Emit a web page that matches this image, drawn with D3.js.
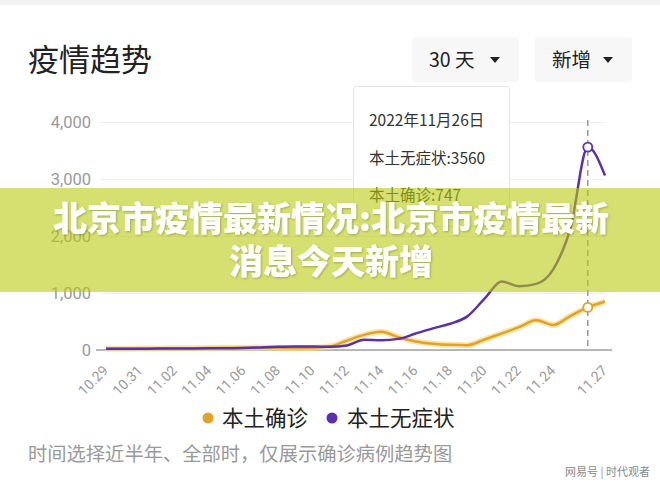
<!DOCTYPE html>
<html>
<head>
<meta charset="utf-8">
<script src="https://cdn.jsdelivr.net/npm/d3@7"></script>
<style>
  body { margin: 0; background: #fff; }
  svg { display: block; font-family: "Noto Sans CJK SC", "Noto Sans", sans-serif; }
</style>
</head>
<body>
<div id="chart"></div>
<script>
// daily values
const dates = [
  "10.29", "10.30", "10.31", "11.01", "11.02", "11.03", "11.04", "11.05", "11.06", "11.07",
  "11.08", "11.09", "11.10", "11.11", "11.12", "11.13", "11.14", "11.15", "11.16", "11.17",
  "11.18", "11.19", "11.20", "11.21", "11.22", "11.23", "11.24", "11.25", "11.26", "11.27"
];
const confirmed = [
  20, 22, 25, 28, 30, 32, 35, 38, 40, 40,
  38, 35, 40, 60, 165, 265, 318, 225, 150, 110,
  90, 85, 185, 290, 400, 520, 440, 600, 747, 850
];
const asymptomatic = [
  20, 20, 22, 25, 25, 28, 30, 30, 35, 45,
  55, 60, 60, 58, 80, 180, 170, 195, 290, 380,
  460, 590, 900, 1200, 1120, 1160, 1420, 2150, 3560, 3060
];
const xTickLabels = [
  "10.29", "10.31", "11.02", "11.04", "11.06", "11.08", "11.10", "11.12",
  "11.14", "11.16", "11.18", "11.20", "11.22", "11.24", "11.27"
];
const yTicks = [0, 1000, 2000, 3000, 4000];
const seriesNames = ["本土确诊", "本土无症状"];
const seriesColors = ["#e2a226", "#5a2fb0"];
const highlightDate = "11.26";

const width = 660, height = 482;
const svg = d3.select("#chart").append("svg")
  .attr("width", width)
  .attr("height", height);

const defs = svg.append("defs");
const shadow = defs.append("filter").attr("id", "textShadow")
  .attr("x", "-10%").attr("y", "-20%").attr("width", "120%").attr("height", "140%");
shadow.append("feDropShadow")
  .attr("dx", 1).attr("dy", 1).attr("stdDeviation", 1.2)
  .attr("flood-color", "#000").attr("flood-opacity", 0.25);

svg.append("rect").attr("width", width).attr("height", height).attr("fill", "#fff");
svg.append("rect").attr("width", width).attr("height", 5).attr("fill", "#f1f1f1");

// header
svg.append("text")
  .attr("x", 28).attr("y", 60).attr("dy", "0.35em")
  .attr("font-size", 31).attr("fill", "#222")
  .text("疫情趋势");

const buttons = [
  { label: "30 天", x: 412, w: 107 },
  { label: "新增", x: 535, w: 97 },
];
buttons.forEach((b) => {
  svg.append("rect")
    .attr("x", b.x).attr("y", 37).attr("width", b.w).attr("height", 45)
    .attr("rx", 3).attr("fill", "#f7f7f7");
  svg.append("text")
    .attr("x", b.x + 17).attr("y", 60).attr("dy", "0.35em")
    .attr("font-size", 19.5).attr("fill", "#222")
    .text(b.label);
  const tx = b.x + b.w - 24;
  svg.append("path")
    .attr("d", `M${tx - 5},57 L${tx + 5},57 L${tx},63 Z`)
    .attr("fill", "#222");
});

// scales
const x = d3.scalePoint().domain(dates).range([106, 605]);
const y = d3.scaleLinear().domain([0, 4000]).range([350, 122]);

// grid + y labels
const yAxis = svg.append("g")
  .attr("transform", "translate(100,0)")
  .call(d3.axisLeft(y).tickValues(yTicks).tickSize(-505).tickFormat(d3.format(",")));
yAxis.select(".domain").remove();
yAxis.selectAll(".tick line").attr("stroke", "#efefef").attr("stroke-width", 1.2);
yAxis.selectAll(".tick text")
  .attr("x", -9)
  .attr("font-size", 16.5).attr("fill", "#9a9a9a")
  .attr("font-family", "Roboto, 'Liberation Sans', sans-serif");

// x axis
svg.append("line")
  .attr("x1", 96).attr("x2", 612).attr("y1", y(0)).attr("y2", y(0))
  .attr("stroke", "#a0a0a0").attr("stroke-width", 1.5);

const xAxis = svg.append("g")
  .attr("transform", `translate(0,${y(0)})`)
  .call(d3.axisBottom(x).tickValues(xTickLabels).tickSize(0));
xAxis.select(".domain").remove();
xAxis.selectAll(".tick text")
  .attr("font-size", 14).attr("fill", "#9a9a9a")
  .attr("font-family", "Roboto, 'Liberation Sans', sans-serif")
  .attr("text-anchor", "end")
  .attr("y", 0).attr("dy", "0.35em")
  .attr("transform", "translate(-1,18) rotate(-45)");

// tooltip box
svg.append("rect")
  .attr("x", 353.5).attr("y", 86.5).attr("width", 156).attr("height", 140)
  .attr("rx", 3).attr("fill", "#fff").attr("stroke", "#e4e4e4");
const tipLines = [
  "2022年11月26日",
  `${seriesNames[1]}:${asymptomatic[dates.indexOf(highlightDate)]}`,
  `${seriesNames[0]}:${confirmed[dates.indexOf(highlightDate)]}`,
];
tipLines.forEach((t, i) => {
  svg.append("text")
    .attr("x", 369).attr("y", 121 + i * 37.5).attr("dy", "0.35em")
    .attr("font-size", 15.5).attr("fill", "#333")
    .text(t);
});

// highlight line
svg.append("line")
  .attr("x1", x(highlightDate)).attr("x2", x(highlightDate))
  .attr("y1", 120).attr("y2", y(0))
  .attr("stroke", "#999").attr("stroke-width", 1.5)
  .attr("stroke-dasharray", "6,4");

// lines
const line = d3.line()
  .x((d, i) => x(dates[i]))
  .y((d) => y(d))
  .curve(d3.curveMonotoneX);

svg.append("path")
  .datum(confirmed)
  .attr("d", line)
  .attr("fill", "none")
  .attr("stroke", "#f5dc8a").attr("stroke-opacity", 0.7)
  .attr("stroke-width", 6);
svg.append("path")
  .datum(confirmed)
  .attr("d", line)
  .attr("fill", "none")
  .attr("stroke", seriesColors[0])
  .attr("stroke-width", 2.5);
svg.append("path")
  .datum(asymptomatic)
  .attr("d", line)
  .attr("fill", "none")
  .attr("stroke", seriesColors[1])
  .attr("stroke-width", 2.5);

[confirmed, asymptomatic].forEach((s, i) => {
  svg.append("circle")
    .attr("cx", x(highlightDate))
    .attr("cy", y(s[dates.indexOf(highlightDate)]))
    .attr("r", 4.5)
    .attr("fill", "#fff")
    .attr("stroke", seriesColors[i])
    .attr("stroke-width", 1.8);
});

// legend
const legendItems = [
  { cx: 208, tx: 222 },
  { cx: 332, tx: 347 },
];
legendItems.forEach((l, i) => {
  svg.append("circle")
    .attr("cx", l.cx).attr("cy", 418).attr("r", 5.5)
    .attr("fill", seriesColors[i]);
  svg.append("text")
    .attr("x", l.tx).attr("y", 418).attr("dy", "0.35em")
    .attr("font-size", 21.5).attr("fill", "#222")
    .text(seriesNames[i]);
});

// footer note
svg.append("text")
  .attr("x", 28).attr("y", 454).attr("dy", "0.35em")
  .attr("font-size", 19.3).attr("fill", "#999")
  .text("时间选择近半年、全部时，仅展示确诊病例趋势图");

svg.append("text")
  .attr("x", 650).attr("y", 472).attr("dy", "0.35em")
  .attr("text-anchor", "end")
  .attr("font-size", 11).attr("fill", "#8a8a8a")
  .text("网易号 | 时代观者");

// headline banner over the chart
svg.append("rect")
  .attr("x", 0).attr("y", 188).attr("width", width).attr("height", 104)
  .attr("fill", "rgb(185,202,12)").attr("fill-opacity", 0.59);
const bannerLines = ["北京市疫情最新情况:北京市疫情最新", "消息今天新增"];
bannerLines.forEach((t, i) => {
  svg.append("text")
    .attr("x", 331).attr("y", 219 + i * 43).attr("dy", "0.35em")
    .attr("text-anchor", "middle")
    .attr("font-size", 34).attr("font-weight", 900)
    .attr("fill", "#fff")
    .attr("filter", "url(#textShadow)")
    .text(t);
});
</script>
</body>
</html>
